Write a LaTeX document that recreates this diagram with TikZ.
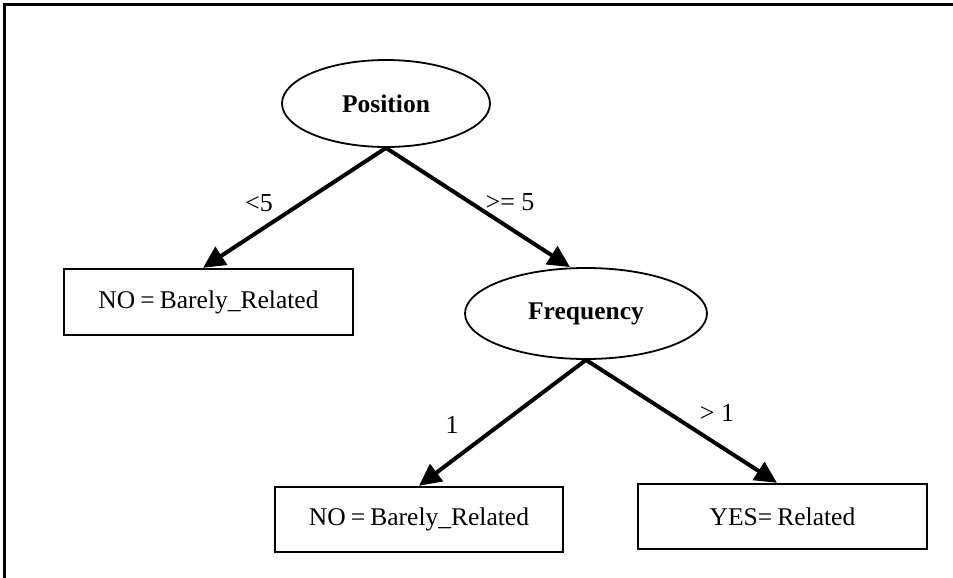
\documentclass[tikz,border=0pt]{standalone}
\usepackage{fontspec}
\setmainfont{Liberation Serif}
\usetikzlibrary{shapes.geometric,arrows.meta}
\newcommand\leaffont{\fontsize{25.5}{30}\selectfont\spaceskip 0.2em\relax}
\begin{document}
\begin{tikzpicture}[x=1pt,y=-1pt,
  attr/.style={draw, ellipse, line width=1.8pt, inner sep=0pt,
    font=\fontsize{25.5}{30}\selectfont\bfseries},
  leaf/.style={draw, rectangle, line width=2.4pt, inner sep=0pt,
    font=\leaffont},
  branch/.style={line width=4pt, -{Triangle[length=22pt,width=21pt]}},
  cond/.style={inner sep=0pt, font=\fontsize{26}{30}\selectfont}]
\useasboundingbox (0,0) rectangle (953,578);
% frame
\draw[line width=3pt] (4,578) -- (4,4.5) -- (953,4.5);

% decision nodes
\node[attr, minimum width=208pt, minimum height=87pt] (pos) at (386,103.5) {Position};
\node[attr, minimum width=242pt, minimum height=91pt] (freq) at (586,313.5) {Frequency};

% leaves
\node[leaf, minimum width=289pt, minimum height=66pt] (no1) at (208.5,302) {NO = Barely\_Related};
\node[leaf, minimum width=288pt, minimum height=65pt] (no2) at (419,519.5) {NO = Barely\_Related};
\node[leaf, minimum width=289pt, minimum height=65pt] (yes) at (782.5,516.5) {YES= Related};

% branches
\draw[branch] (pos.south) -- ([xshift=-5.5pt]no1.north);
\draw[branch] (pos.south) -- ([xshift=-16pt]freq.north);
\draw[branch] (freq.south) -- (no2.north);
\draw[branch] (freq.south) -- ([xshift=-5.5pt]yes.north);

% branch conditions
\node[cond] (c1) at (259,203) {<5};
\node[cond] (c2) at (510,202) {>= 5};
\node[cond] (c3) at (452,425) {1};
\node[cond] (c4) at (717,413) {> 1};
\end{tikzpicture}
\end{document}
